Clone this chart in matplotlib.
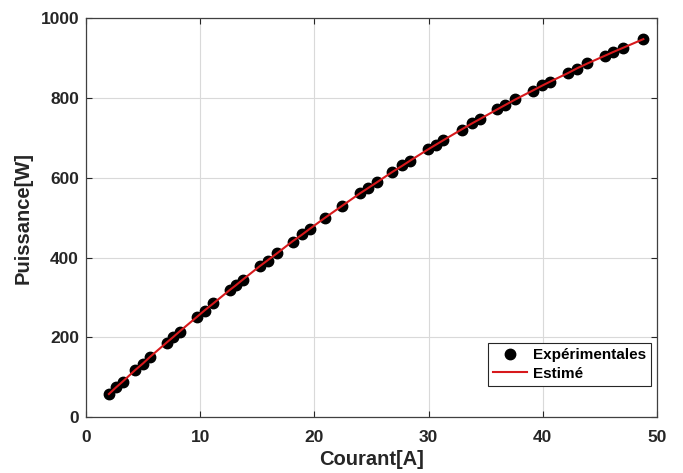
import matplotlib
matplotlib.use("Agg")
import matplotlib.pyplot as plt

plt.rcParams['font.family'] = ['Liberation Sans', 'DejaVu Sans']

# Measured current [A] and power [W]
courant = [2.0, 2.6, 3.2, 4.3, 5.0, 5.6, 7.1, 7.6, 8.2, 9.7, 10.4, 11.1,
           12.6, 13.1, 13.7, 15.2, 15.9, 16.7, 18.1, 18.9, 19.6, 20.9, 22.4,
           24.0, 24.7, 25.5, 26.8, 27.7, 28.4, 29.9, 30.6, 31.3, 32.9, 33.8,
           34.5, 36.0, 36.7, 37.6, 39.1, 39.9, 40.6, 42.2, 43.0, 43.9, 45.4,
           46.1, 47.0, 48.8]
puissance_exp = [57, 75, 88, 119, 134, 152, 187, 201, 214, 252, 267, 285,
                 318, 331, 343, 379, 392, 411, 440, 458, 471, 500, 528,
                 562, 573, 590, 613, 631, 642, 671, 681, 695, 720, 737,
                 746, 772, 781, 797, 817, 831, 839, 863, 873, 887, 904,
                 915, 924, 947]
# Estimated model output at the same currents
puissance_est = [58, 74, 89, 118, 135, 151, 188, 200, 215, 251, 268, 284,
                 319, 330, 344, 378, 393, 410, 441, 457, 472, 499, 529,
                 561, 574, 589, 614, 630, 643, 670, 682, 694, 721, 736,
                 747, 771, 782, 796, 818, 830, 840, 862, 874, 886, 905,
                 914, 925, 947]

xticks = [0, 10, 20, 30, 40, 50]
yticks = [0, 200, 400, 600, 800, 1000]

fig = plt.figure(figsize=(6.83, 4.73), dpi=100)
ax = fig.add_axes([0.126, 0.118, 0.836, 0.844])

ax.plot(courant, puissance_exp, 'o', color='black', markersize=7.5,
        label='Expérimentales', zorder=3)
ax.plot(courant, puissance_est, '-', color='#d7191c', linewidth=1.5,
        label='Estimé', zorder=4)

ax.set_xlim(0, 50)
ax.set_ylim(0, 1000)
ax.set_xticks(xticks)
ax.set_yticks(yticks)
ax.tick_params(direction='in', length=4, width=0.8, labelsize=12.5,
               colors='#262626', top=True, right=True)
ax.tick_params(axis='x', pad=9)
ax.tick_params(axis='y', pad=5)
for lbl in ax.get_xticklabels() + ax.get_yticklabels():
    lbl.set_fontweight('bold')
ax.grid(True, color='#d9d9d9', linewidth=0.8)
ax.set_axisbelow(True)
for sp in ax.spines.values():
    sp.set_color('#404040')
    sp.set_linewidth(0.9)

ax.set_xlabel('Courant[A]', fontsize=14.5, fontweight='bold', color='#262626',
              labelpad=4)
ax.set_ylabel('Puissance[W]', fontsize=14.5, fontweight='bold', color='#262626',
              labelpad=6)

leg = ax.legend(loc='lower right', bbox_to_anchor=(0.995, 0.07),
                prop={'weight': 'bold', 'size': 11},
                fancybox=False, framealpha=1, edgecolor='#262626',
                handlelength=2.2, handletextpad=0.4, borderpad=0.35,
                labelspacing=0.3, borderaxespad=0.2)
leg.get_frame().set_linewidth(0.8)

fig.savefig('out.png', dpi=100)
